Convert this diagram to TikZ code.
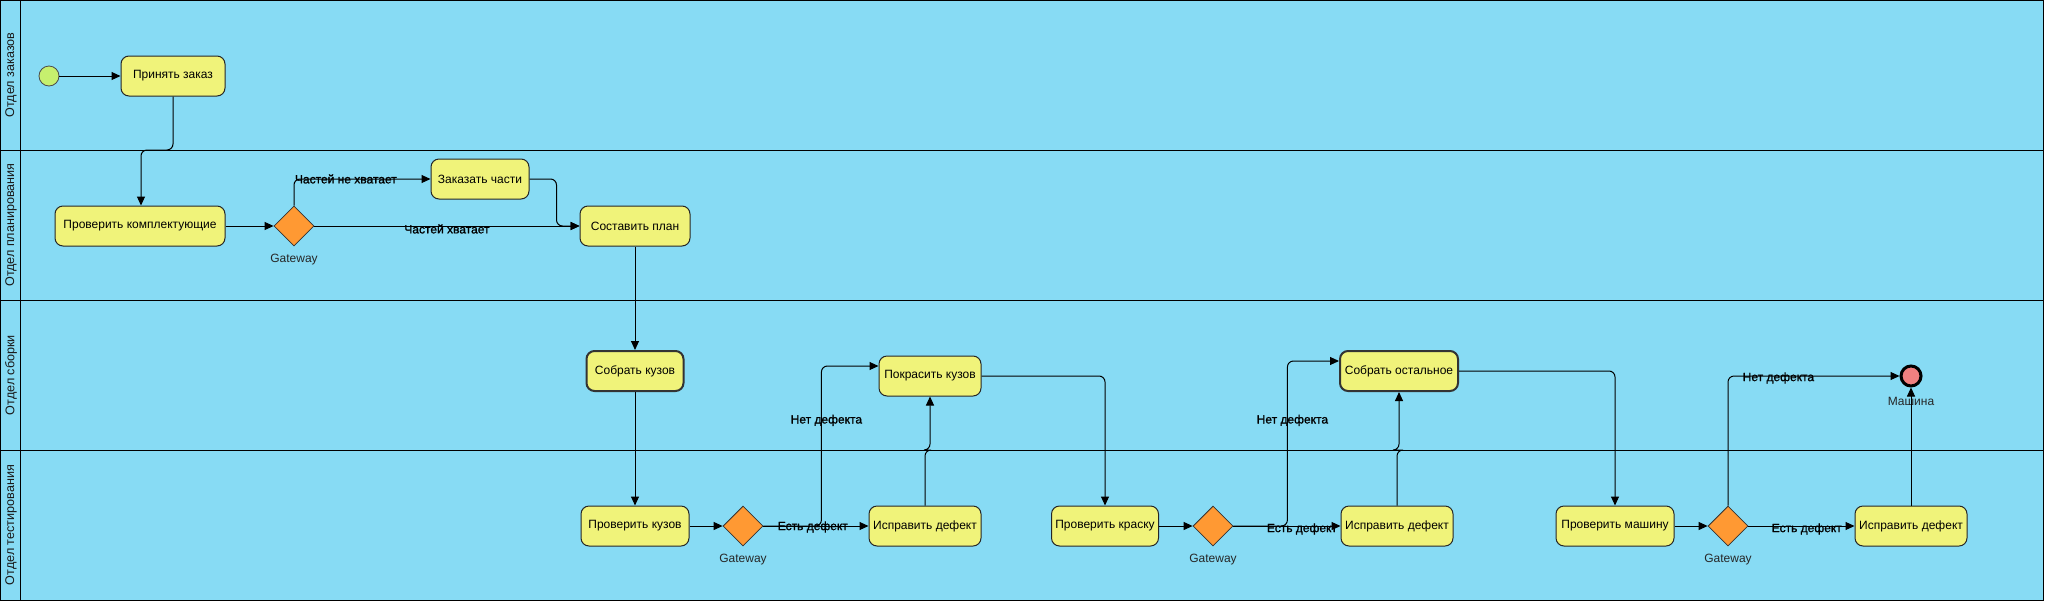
\documentclass[tikz,border=0pt]{standalone}
\usepackage{fontspec}
\setmainfont{Liberation Sans}
\newfontfamily\edgefont[FakeBold=1.2]{Liberation Sans}
\usetikzlibrary{arrows.meta,shapes.geometric,calc}
\definecolor{lanefill}{RGB}{135,219,244}
\definecolor{taskfill}{RGB}{240,243,122}
\definecolor{gatefill}{RGB}{255,153,51}
\definecolor{startfill}{RGB}{198,240,110}
\definecolor{endfill}{RGB}{240,128,128}
\begin{document}
\begin{tikzpicture}[x=1pt,y=-1pt,
  font=\fontsize{12}{14}\selectfont,
  task/.style={draw=black!85, fill=taskfill, rounded corners=8pt, minimum height=40pt, inner sep=0pt, line width=1pt},
  thicktask/.style={task, line width=2pt, draw=black!80},
  gate/.style={diamond, draw=black!80, fill=gatefill, minimum width=40pt, minimum height=40pt, inner sep=0pt, line width=0.8pt},
  flow/.style={draw=black, line width=1pt, rounded corners=6pt, -{Triangle[length=9pt,width=8pt]}},
  elabel/.style={inner sep=0pt, text=black, font=\edgefont\fontsize{12}{14}\selectfont},
  gname/.style={inner sep=0pt, text=black!85},
  lanelabel/.style={rotate=90, inner sep=0pt, text=black!90, font=\fontsize{12.6}{14}\selectfont}
]
\useasboundingbox (0,0) rectangle (2047,603);
% pool and lanes
\fill[lanefill] (0.5,0.5) rectangle (2043.5,600);
\draw[line width=1pt] (0.5,0.5) rectangle (2043.5,600);
\draw[line width=1pt] (20.5,0.5) -- (20.5,600);
\coordinate (lane12) at (0,150);
\coordinate (lane23) at (0,300);
\coordinate (lane34) at (0,450);
\draw[line width=1pt] (0.5,150) -- (2043.5,150);
\draw[line width=1pt] (0.5,300) -- (2043.5,300);
\draw[line width=1pt] (0.5,450) -- (2043.5,450);
\node[lanelabel] (L1) at (11,75) {Отдел заказов};
\node[lanelabel] (L2) at (11,225) {Отдел планирования};
\node[lanelabel] (L3) at (11,375) {Отдел сборки};
\node[lanelabel] (L4) at (11,525) {Отдел тестирования};

% events
\node[circle, draw=black!70, fill=startfill, minimum size=20pt, inner sep=0pt, line width=0.8pt] (start) at (49,76) {};
\node[circle, draw=black, fill=endfill, minimum size=20pt, inner sep=0pt, line width=3pt] (end) at (1911,376) {};
\node[gname] (endlbl) at (1911,401) {Машина};

% tasks
\node[task, minimum width=104pt] (t1) at (173,76) {Принять заказ};
\node[task, minimum width=170pt] (t2) at (140,226) {Проверить комплектующие};
\node[task, minimum width=98pt] (t3) at (480,179) {Заказать части};
\node[task, minimum width=110pt] (t4) at (635,226) {Составить план};
\node[thicktask, minimum width=97pt] (t5) at (635,371) {Собрать кузов};
\node[task, minimum width=108pt] (t6) at (635,526) {Проверить кузов};
\node[task, minimum width=102pt] (t7) at (930,376) {Покрасить кузов};
\node[task, minimum width=112pt] (t8) at (925,526) {Исправить дефект};
\node[task, minimum width=107pt] (t9) at (1105,526) {Проверить краску};
\node[thicktask, minimum width=118pt] (t10) at (1399,371) {Собрать остальное};
\node[task, minimum width=112pt] (t11) at (1397,526) {Исправить дефект};
\node[task, minimum width=118pt] (t12) at (1615,526) {Проверить машину};
\node[task, minimum width=112pt] (t13) at (1911,526) {Исправить дефект};

% gateways
\node[gate] (g1) at (294,226) {};
\node[gate] (g2) at (743,526) {};
\node[gate] (g3) at (1213,526) {};
\node[gate] (g4) at (1728,526) {};
\node[gname] (g1l) at (294,260) {Gateway};
\node[gname] (g2l) at (743,560) {Gateway};
\node[gname] (g3l) at (1213,560) {Gateway};
\node[gname] (g4l) at (1728,560) {Gateway};

% flows
\draw[flow] (start) -- (t1);
\draw[flow] (t1.south) -- (t1.south |- lane12) -| ([xshift=1pt]t2.north);
\draw[flow] (t2) -- (g1);
\draw[flow] (g1.north) |- node[elabel, pos=0.69] (e1) {Частей не хватает} (t3.west);
\draw[flow] (t3.east) -- ([xshift=27pt]t3.east) |- (t4.west);
\draw[flow] (g1.east) -- node[elabel, pos=0.5, yshift=-3pt] (e2) {Частей хватает} (t4.west);
\draw[flow] (t4) -- (t5);
\draw[flow] (t5) -- (t6);
\draw[flow] (t6) -- (g2);
\draw[flow] (g2.east) -- node[elabel, pos=0.47, yshift=-1pt] (e3) {Есть дефект} (t8.west);
\draw[flow] (g2.east) -- ([xshift=58pt]g2.east) |- node[elabel, pos=0.33, xshift=5pt] (e4) {Нет дефекта} ([yshift=10pt]t7.west);
\draw[flow] (t8.north) -- (t8.north |- lane34) -| (t7.south);
\draw[flow] (t7.east) -| (t9.north);
\draw[flow] (t9) -- (g3);
\draw[flow] (g3.east) -- node[elabel, pos=0.64, yshift=-3pt] (e5) {Есть дефект} (t11.west);
\draw[flow] (g3.east) -- ([xshift=54pt]g3.east) |- node[elabel, pos=0.32, xshift=5pt] (e6) {Нет дефекта} ([yshift=10pt]t10.west);
\draw[flow] (t11.north) -- (t11.north |- lane34) -| (t10.south);
\draw[flow] (t10.east) -| (t12.north);
\draw[flow] (t12) -- (g4);
\draw[flow] (g4.east) -- node[elabel, pos=0.55, yshift=-3pt] (e7) {Есть дефект} (t13.west);
\draw[flow] (g4.north) |- node[elabel, pos=0.647, yshift=-2pt] (e8) {Нет дефекта} (end.west);
\draw[flow] (t13.north) -- (end.south);
\end{tikzpicture}
\end{document}
